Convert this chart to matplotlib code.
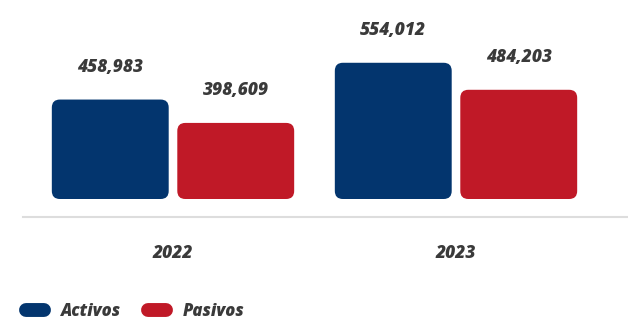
import matplotlib.pyplot as plt
from matplotlib.patches import FancyBboxPatch
from matplotlib.lines import Line2D

# data
years = ['2022', '2023']
activos = [458983, 554012]
pasivos = [398609, 484203]
series_names = ['Activos', 'Pasivos']

BLUE = '#03356e'
RED = '#c01927'
TXT = '#3a3a3a'
BASE = 202000  # bars start here, not at zero

plt.rcParams['font.family'] = ['Open Sans', 'DejaVu Sans']

W, H = 628, 319
fig = plt.figure(figsize=(W / 100, H / 100), dpi=100)
ax_h = 217
ax = fig.add_axes([0, (H - ax_h) / H, 1, ax_h / H])

units_per_px = 2584
ax.set_ylim(BASE - 18 * units_per_px, BASE - 18 * units_per_px + ax_h * units_per_px)
ax.set_xlim(-173 / 283, (W - 173) / 283)
ax.axis('off')

bw = 0.413
off = 0.2217
x_per_px = 1 / 283
aspect = units_per_px / x_per_px

for i, yr in enumerate(years):
    for val, dx, col in [(activos[i], -off, BLUE), (pasivos[i], off, RED)]:
        x0 = i + dx - bw / 2
        p = FancyBboxPatch((x0, BASE), bw, val - BASE,
                           boxstyle='round,pad=0,rounding_size=%f' % (8 * x_per_px),
                           mutation_aspect=aspect, fc=col, ec='none')
        ax.add_patch(p)
        ax.annotate(f'{val:,}', (i + dx, val), xytext=(0, 32), textcoords='offset pixels',
                    ha='center', va='center', fontsize=12.5, fontweight='heavy',
                    fontstyle='italic', color=TXT)
    ax.text(i, -36 / ax_h, yr, transform=ax.get_xaxis_transform(), ha='center', va='center',
            fontsize=12.5, fontweight='heavy', fontstyle='italic', color=TXT)

ax.axhline(BASE - 18 * units_per_px, xmin=23 / W, xmax=1, color='#dddddd', lw=1.5, clip_on=False)

handles = [Line2D([0], [0], color=BLUE, lw=10, solid_capstyle='round'),
           Line2D([0], [0], color=RED, lw=10, solid_capstyle='round')]
leg = fig.legend(handles, series_names, loc='center left', bbox_to_anchor=(26 / W, 1 - 311 / H),
                 ncol=2, frameon=False, handlelength=1.1, handletextpad=1.0, columnspacing=1.6,
                 borderpad=0, borderaxespad=0,
                 prop={'size': 12, 'weight': 'heavy', 'style': 'italic', 'family': ['Open Sans', 'DejaVu Sans']})
for t in leg.get_texts():
    t.set_color(TXT)

fig.savefig('out.png', dpi=100)
